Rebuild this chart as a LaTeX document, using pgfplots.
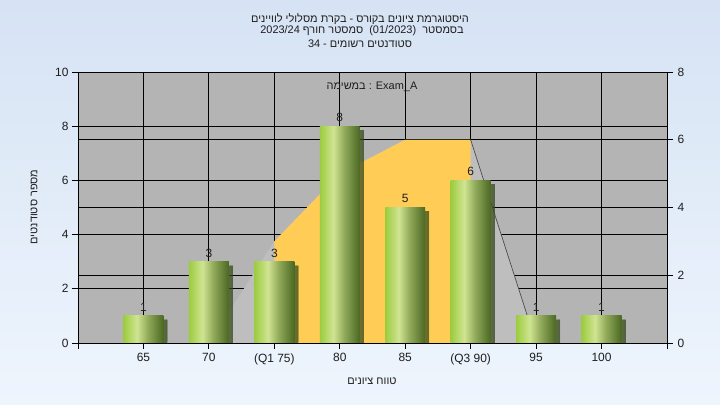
\documentclass[border=0pt]{standalone}
\usepackage{fontspec}
\setmainfont{Liberation Sans}
\newfontfamily\heb[Script=Hebrew]{Liberation Sans}
\TeXXeTstate=1
\usepackage{pgfplots}
\pgfplotsset{compat=1.18}
\usetikzlibrary{shadows}

\definecolor{bgtop}{HTML}{D6E3F4}
\definecolor{bgbot}{HTML}{EEF5FD}
\definecolor{plotgray}{HTML}{B4B4B4}
\definecolor{polygray}{HTML}{BEBEBE}
\definecolor{boxyellow}{HTML}{FFCC55}
\definecolor{txt}{HTML}{1E1E1E}
\definecolor{gA}{HTML}{9CCC40}
\definecolor{gB}{HTML}{D0E492}
\definecolor{gM}{HTML}{93AC5C}
\definecolor{gC}{HTML}{4B6822}

% bar gradient, left to right (meaningful part 25bp..75bp)
\pgfdeclarehorizontalshading{bargreen}{100bp}{color(0bp)=(gA); color(25bp)=(gA);
  color(42bp)=(gB); color(55bp)=(gM); color(75bp)=(gC); color(100bp)=(gC)}

\newcommand{\lbl}{\fontsize{12}{14}\selectfont}
\newcommand{\ttl}{\fontsize{11}{13}\selectfont}

\pgfplotsset{
  gbar/.style={ybar, bar width=0.61, bar shift=0pt, draw=none,
    shade, shading=bargreen,
    drop shadow={shadow xshift=4bp, shadow yshift=-4bp, fill=black, opacity=0.5},
    nodes near coords,
    nodes near coords style={font=\lbl, text=txt, yshift=1bp}},
}

\begin{document}
\begin{tikzpicture}
% page background
\shade[top color=bgtop, bottom color=bgbot] (-78bp,-62bp) rectangle (642bp,343bp);

% right scale: grid, box-plot area
\begin{axis}[
    scale only axis, width=589bp, height=271bp,
    at={(0,0)}, anchor=south west,
    xmin=0, xmax=9, ymin=0, ymax=8,
    axis background/.style={fill=plotgray},
    xtick={1,...,8}, xticklabels={}, xmajorticks=false,
    xmajorgrids, ymajorgrids,
    ytick={0,2,4,6,8}, ytick pos=right, yticklabel pos=right,
    extra y ticks={1.6,3.2,4.8,6.4}, extra y tick labels={},
    extra y tick style={grid=major, major tick length=0pt},
    grid style={black, line width=0.9bp},
    tick align=outside, major tick length=6bp,
    tick style={black, line width=0.9bp},
    axis line style={draw=none},
    yticklabel style={font=\lbl, text=txt, xshift=1bp},
    /pgf/number format/assume math mode=true,
]
\addplot[fill=polygray, draw=none] coordinates {(2,0) (3,3) (4,5) (5,6) (6,6) (7,0)} \closedcycle;
\addplot[fill=boxyellow, draw=none] coordinates {(3,3) (4,5) (5,6) (6,6)} \closedcycle;
\addplot[draw=black!70, line width=0.7bp] coordinates {(6,6) (7,0)};
\end{axis}

% left scale: bars
\begin{axis}[
    scale only axis, width=589bp, height=271bp,
    at={(0,0)}, anchor=south west,
    xmin=0, xmax=9, ymin=0, ymax=10,
    ytick={0,2,...,10}, ytick pos=left,
    xtick={0,...,9},
    xticklabels={,65,70,(Q1 75),80,85,(Q3 90),95,100,},
    xtick pos=bottom,
    tick align=outside, major tick length=6bp,
    tick style={black, line width=0.9bp},
    axis line style={black, line width=0.9bp},
    ticklabel style={font=\lbl, text=txt},
    xticklabel style={yshift=-1bp},
    /pgf/number format/assume math mode=true,
]
\addplot[gbar] coordinates {(1,1)};
\addplot[gbar] coordinates {(2,3)};
\addplot[gbar] coordinates {(3,3)};
\addplot[gbar] coordinates {(4,8)};
\addplot[gbar] coordinates {(5,5)};
\addplot[gbar] coordinates {(6,6)};
\addplot[gbar] coordinates {(7,1)};
\addplot[gbar] coordinates {(8,1)};
\end{axis}

% texts
\node[font=\ttl, text=txt] at (294bp,256bp) {{\heb\beginR במשימה\endR}\ : Exam\_A};
\node[font=\ttl, text=txt] at (282bp,324bp) {\heb\beginR היסטוגרמת ציונים בקורס - בקרת מסלולי לוויינים\endR};
\node[font=\ttl, text=txt] at (284bp,312bp) {\heb\beginR בסמסטר \ (01/2023) \ סמסטר חורף 2023/24\endR};
\node[font=\ttl, text=txt] at (282bp,299bp) {\heb\beginR סטודנטים רשומים - 34\endR};
\node[font=\ttl, text=txt] at (294bp,-38bp) {\heb\beginR טווח ציונים\endR};
\node[font=\ttl, text=txt, rotate=90] at (-44bp,136bp) {\heb\beginR מספר סטודנטים\endR};

\pgfresetboundingbox
\useasboundingbox (-78bp,-62bp) rectangle (642bp,343bp);
\end{tikzpicture}
\end{document}
